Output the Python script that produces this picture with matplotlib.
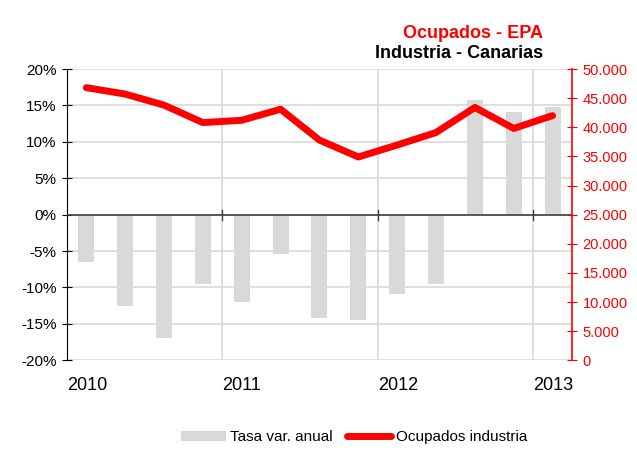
import matplotlib.pyplot as plt
import matplotlib.ticker as mticker
import numpy as np

plt.rcParams['font.family'] = ['Liberation Sans', 'DejaVu Sans']

# quarterly data, 2010 Q1 .. 2013 Q1
tasa = [-6.5, -12.5, -16.9, -9.5, -12.0, -5.4, -14.2, -14.5, -10.9, -9.5, 15.7, 14.1, 14.8]
ocupados = [46800, 45700, 43800, 40800, 41200, 43100, 37800, 34900, 36950, 39100, 43400, 39800, 42000]
years = ['2010', '2011', '2012', '2013']

x = np.arange(len(tasa)) + 0.5

fig = plt.figure(figsize=(6.37, 4.57), dpi=100)
ax = fig.add_axes([0.105, 0.2116, 0.793, 0.6374])
ax2 = ax.twinx()

ax.set_zorder(1)
ax2.set_zorder(2)
ax.patch.set_visible(False)
ax2.patch.set_visible(False)

ax.bar(x, tasa, width=0.41, color='#d9d9d9', zorder=2, label='Tasa var. anual')
ax2.plot(x, ocupados, color='#ff0000', linewidth=5, solid_capstyle='round',
         solid_joinstyle='round', label='Ocupados industria')

ax.set_xlim(0, len(tasa))
ax.set_ylim(-20, 20)
ax.set_yticks(np.arange(-20, 21, 5))
ax.yaxis.set_major_formatter(mticker.FuncFormatter(lambda v, p: f'{v:.0f}%'))
ax.grid(axis='y', color='#d9d9d9', linewidth=1.2, zorder=0)
for xv in [4, 8, 12]:
    ax.axvline(xv, color='#d9d9d9', linewidth=1.2, zorder=0)
ax.axhline(0, color='#404040', linewidth=1.2, zorder=3)
for xv in [4, 8, 12]:
    ax.plot([xv, xv], [-0.7, 0.7], color='#404040', linewidth=1, zorder=3)

ax2.set_ylim(0, 50000)
ax2.set_yticks(np.arange(0, 50001, 5000))
ax2.yaxis.set_major_formatter(mticker.FuncFormatter(
    lambda v, p: f'{v:,.0f}'.replace(',', '.')))

ax.set_xticks([0, 4, 8, 12])
ax.set_xticklabels(years, fontsize=13, ha='left')
ax.tick_params(axis='x', length=0, pad=12)
ax.tick_params(axis='y', direction='inout', length=7, labelsize=11, pad=4)
ax2.tick_params(axis='y', direction='inout', length=7, labelsize=10.5, pad=4,
                colors='#ff0000')

for s in ['top', 'right', 'bottom']:
    ax.spines[s].set_visible(False)
for s in ['top', 'left', 'bottom']:
    ax2.spines[s].set_visible(False)
ax.spines['left'].set_color('black')
ax2.spines['right'].set_color('#ff0000')
ax2.spines['right'].set_linewidth(1.2)

fig.text(0.853, 0.927, 'Ocupados - EPA', color='#ff0000', fontsize=13,
         fontweight='bold', ha='right', va='center')
fig.text(0.853, 0.884, 'Industria - Canarias', color='black', fontsize=13,
         fontweight='bold', ha='right', va='center')

h1, l1 = ax.get_legend_handles_labels()
h2, l2 = ax2.get_legend_handles_labels()
fig.legend(h1 + h2, l1 + l2, loc='center', bbox_to_anchor=(0.556, 0.043),
           ncol=2, frameon=False, fontsize=11, handlelength=2.9,
           handletextpad=0.3, columnspacing=0.9)

fig.savefig('out.png', dpi=100)
